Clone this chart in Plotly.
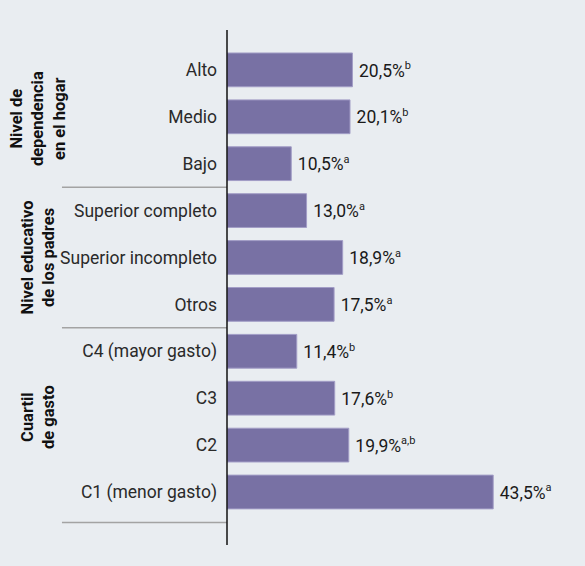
import plotly.graph_objects as go

categories = ["Alto", "Medio", "Bajo", "Superior completo", "Superior incompleto",
              "Otros", "C4 (mayor gasto)", "C3", "C2", "C1 (menor gasto)"]
values = [20.5, 20.1, 10.5, 13.0, 18.9, 17.5, 11.4, 17.6, 19.9, 43.5]
value_labels = ["20,5%", "20,1%", "10,5%", "13,0%", "18,9%", "17,5%", "11,4%", "17,6%", "19,9%", "43,5%"]
superscripts = ["b", "b", "a", "a", "a", "a", "b", "b", "a,b", "a"]
group_titles = ["Nivel de<br>dependencia<br>en el hogar", "Nivel educativo<br>de los padres", "Cuartil<br>de gasto"]
group_centers = [1.05, 4.0, 7.4]
separators = [2.5, 5.5, 9.65]

pos = list(range(len(categories)))
texts = [f"\u2009{v}<sup><span style='font-size:11px'>{s}</span></sup>"
         for v, s in zip(value_labels, superscripts)]

FONT = "Roboto"
fig = go.Figure(go.Bar(
    x=values, y=pos, orientation="h",
    marker=dict(color="#7871a4", line=dict(color="#a29dc6", width=1)),
    width=0.72,
    text=texts, textposition="outside",
    textfont=dict(family=FONT, size=17.5, color="#1a1a1a"),
    cliponaxis=False,
))

shapes = []
for s in separators:
    shapes.append(dict(type="line", xref="paper", yref="y", x0=-0.461, x1=0, y0=s, y1=s,
                       line=dict(color="#a3a3a3", width=1.5)))
shapes.append(dict(type="line", xref="paper", yref="paper", x0=0, x1=0, y0=0, y1=1,
                   line=dict(color="#111111", width=1.5)))

annotations = []
for t, c in zip(group_titles, group_centers):
    annotations.append(dict(text=f"<b>{t}</b>", xref="paper", yref="y", x=0, y=c,
                            xshift=-189, textangle=-90, showarrow=False,
                            xanchor="center", yanchor="middle", align="center",
                            font=dict(family=FONT, size=16.5, color="#111111")))

fig.update_layout(
    width=585, height=566,
    margin=dict(l=227, r=0, t=30, b=21),
    paper_bgcolor="#e9edf1", plot_bgcolor="#e9edf1",
    showlegend=False,
    shapes=shapes, annotations=annotations,
    xaxis=dict(range=[0, 58.5], visible=False, showgrid=False, zeroline=False),
    yaxis=dict(range=[10.13, -0.85], tickvals=pos, ticktext=categories,
               tickfont=dict(family=FONT, size=17.5, color="#2a2a2a"),
               showgrid=False, zeroline=False, showline=False, ticks="",
               ticklabelstandoff=9),
    bargap=0.28,
)

fig.write_html("out.html", config={"displayModeBar": False},
               post_script="document.body.style.margin='0';")
